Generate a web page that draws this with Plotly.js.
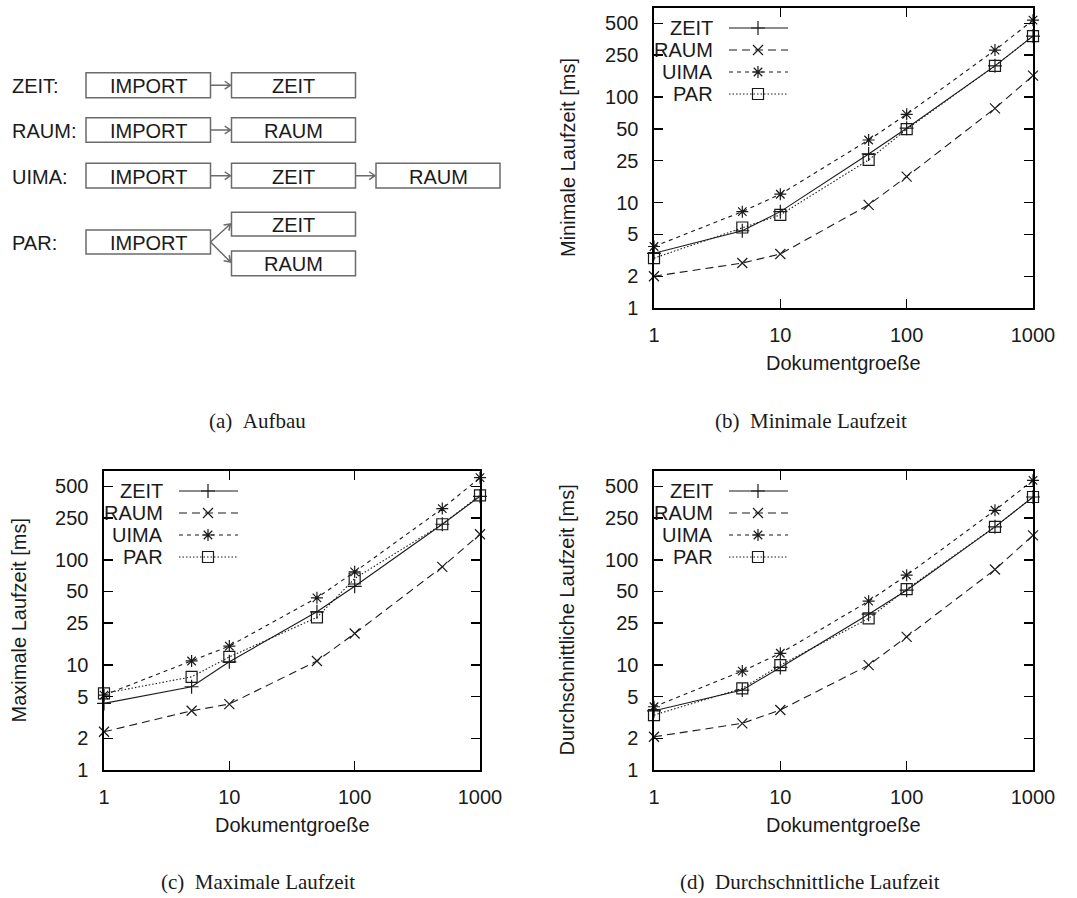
<!DOCTYPE html>
<html>
<head>
<meta charset="utf-8">
<script src="https://cdn.plot.ly/plotly-3.0.1.min.js"></script>
<style>
html,body{margin:0;padding:0;background:#fff;}
#chart{width:1077px;height:898px;}
</style>
</head>
<body>
<div id="chart"></div>
<script>
// ---------------- DATA ----------------
const docSizes = [1, 5, 10, 50, 100, 500, 1000];
const seriesNames = ['ZEIT', 'RAUM', 'UIMA', 'PAR'];

const minZEIT = [3.3, 5.4, 8.2, 28.9, 50.7, 198, 379];
const minRAUM = [2.0, 2.67, 3.25, 9.5, 17.6, 78.3, 160];
const minUIMA = [3.83, 8.2, 12.0, 39.2, 68.7, 279, 537];
const minPAR  = [2.97, 5.8, 7.65, 25.4, 49.6, 198, 379];

const maxZEIT = [4.3, 6.2, 10.7, 32, 56, 218, 402];
const maxRAUM = [2.31, 3.66, 4.24, 10.9, 19.9, 85.7, 175];
const maxUIMA = [5.16, 10.9, 15.1, 43.5, 76.8, 307, 605];
const maxPAR  = [5.35, 7.7, 11.9, 28.3, 66.4, 218, 411];

const avgZEIT = [3.66, 5.76, 9.46, 30.4, 51.4, 206, 396];
const avgRAUM = [2.07, 2.78, 3.72, 9.95, 18.5, 80.8, 171];
const avgUIMA = [4.0, 8.73, 12.9, 40.4, 71.4, 296, 571];
const avgPAR  = [3.33, 5.98, 9.95, 27.7, 52.6, 206, 396];

const yTickVals = [1, 2, 5, 10, 25, 50, 100, 250, 500];
const yTickText = ['1', '2', '5', '10', '25', '50', '100', '250', '500'];
const xTickVals = [1, 10, 100, 1000];
const xTickText = ['1', '10', '100', '1000'];

const xTitle = 'Dokumentgroeße';
const yTitles = ['Minimale Laufzeit [ms]', 'Maximale Laufzeit [ms]', 'Durchschnittliche Laufzeit [ms]'];
const captions = ['(a)\u00a0\u00a0Aufbau', '(b)\u00a0\u00a0Minimale Laufzeit', '(c)\u00a0\u00a0Maximale Laufzeit', '(d)\u00a0\u00a0Durchschnittliche Laufzeit'];

const rowLabels = ['ZEIT:', 'RAUM:', 'UIMA:', 'PAR:'];
const stepImport = 'IMPORT';
const stepZeit = 'ZEIT';
const stepRaum = 'RAUM';

// ---------------- STYLE ----------------
const W = 1077, H = 898;
const SANS = 'Liberation Sans, Arial, Helvetica, sans-serif';
const SERIF = 'Liberation Serif, Times New Roman, serif';
const INK = '#1a1a1a';
const GRAY = '#6b6b6b';
const styles = [
  {symbol: 'cross-thin-open', size: 10, dash: 'solid'},
  {symbol: 'x-thin-open', size: 10, dash: '8px,5px'},
  {symbol: 'asterisk-open', size: 10, dash: '4px,4px'},
  {symbol: 'square-open', size: 11, dash: '1.5px,2px'}
];

const panels = [
  {data: [minZEIT, minRAUM, minUIMA, minPAR], xa: 'x', ya: 'y', f: {l: 654, r: 1033, t: 8, b: 308}, title: yTitles[0], titleX: 568},
  {data: [maxZEIT, maxRAUM, maxUIMA, maxPAR], xa: 'x2', ya: 'y2', f: {l: 104, r: 480, t: 471, b: 770}, title: yTitles[1], titleX: 18},
  {data: [avgZEIT, avgRAUM, avgUIMA, avgPAR], xa: 'x3', ya: 'y3', f: {l: 654, r: 1033, t: 471, b: 770}, title: yTitles[2], titleX: 566}
];

const traces = [];
const layout = {
  width: W, height: H,
  margin: {l: 0, r: 0, t: 0, b: 0, pad: 0},
  paper_bgcolor: '#ffffff',
  plot_bgcolor: 'rgba(0,0,0,0)',
  showlegend: false,
  font: {family: SANS, size: 20, color: INK},
  shapes: [],
  annotations: [],
  xaxis4: {domain: [0, 1], range: [0, W], visible: false, fixedrange: true, anchor: 'y4'},
  yaxis4: {domain: [0, 1], range: [H, 0], visible: false, fixedrange: true, anchor: 'x4'}
};

function axisCommon() {
  return {
    type: 'log', showgrid: false, zeroline: false,
    showline: true, linecolor: '#000', linewidth: 1.6, mirror: 'ticks',
    ticks: 'inside', ticklen: 9, tickwidth: 1.4, tickcolor: '#000',
    tickfont: {family: SANS, size: 20, color: INK},
    fixedrange: true
  };
}

panels.forEach((p, pi) => {
  const n = pi === 0 ? '' : String(pi + 1);
  const xa = Object.assign(axisCommon(), {
    domain: [p.f.l / W, p.f.r / W], range: [0, 3], anchor: p.ya,
    tickvals: xTickVals, ticktext: xTickText, ticklabelstandoff: 8
  });
  const ya = Object.assign(axisCommon(), {
    domain: [1 - p.f.b / H, 1 - p.f.t / H], range: [0, Math.log10(700)], anchor: p.xa,
    tickvals: yTickVals, ticktext: yTickText, ticklabelstandoff: 10
  });
  layout['xaxis' + n] = xa;
  layout['yaxis' + n] = ya;

  p.data.forEach((vals, si) => {
    const st = styles[si];
    traces.push({
      type: 'scatter', mode: 'lines+markers', name: seriesNames[si],
      x: docSizes, y: vals, xaxis: p.xa, yaxis: p.ya, cliponaxis: false,
      line: {color: INK, width: 1.1, dash: st.dash},
      marker: {symbol: st.symbol, size: st.size, color: INK, line: {color: INK, width: 1.2}}
    });
    // legend sample (gnuplot style: text left, sample right)
    const ly = p.f.t + 20 + si * 22;
    layout.annotations.push({
      xref: 'x4', yref: 'y4', x: p.f.l + 61, y: ly, xanchor: 'right', yanchor: 'middle',
      text: seriesNames[si], showarrow: false, font: {family: SANS, size: 20, color: INK}
    });
    traces.push({
      type: 'scatter', mode: 'lines', x: [p.f.l + 75, p.f.l + 134], y: [ly, ly],
      xaxis: 'x4', yaxis: 'y4', hoverinfo: 'skip',
      line: {color: INK, width: 1.1, dash: st.dash}
    });
    traces.push({
      type: 'scatter', mode: 'markers', x: [p.f.l + 104], y: [ly],
      xaxis: 'x4', yaxis: 'y4', hoverinfo: 'skip',
      marker: {symbol: st.symbol, size: st.size, color: INK, line: {color: INK, width: 1.2}}
    });
  });

  // axis titles
  layout.annotations.push({
    xref: 'x4', yref: 'y4', x: p.titleX, y: (p.f.t + p.f.b) / 2, textangle: -90,
    xanchor: 'center', yanchor: 'middle', showarrow: false, text: p.title,
    font: {family: SANS, size: 20, color: INK}
  });
  layout.annotations.push({
    xref: 'x4', yref: 'y4', x: (p.f.l + p.f.r) / 2, y: p.f.b + 55,
    xanchor: 'center', yanchor: 'middle', showarrow: false, text: xTitle,
    font: {family: SANS, size: 20, color: INK}
  });
});

// captions
const capPos = [[257, 421], [811, 421], [258, 882], [810, 882]];
captions.forEach((c, i) => {
  layout.annotations.push({
    xref: 'x4', yref: 'y4', x: capPos[i][0], y: capPos[i][1], xanchor: 'center', yanchor: 'middle',
    showarrow: false, text: c, font: {family: SERIF, size: 21, color: INK}
  });
});

// ---------------- DIAGRAM (a) ----------------
function box(x0, x1, y0, y1, label) {
  layout.shapes.push({type: 'rect', xref: 'x4', yref: 'y4', x0: x0, x1: x1, y0: y0, y1: y1,
    line: {color: GRAY, width: 1.5}, fillcolor: 'rgba(0,0,0,0)'});
  layout.annotations.push({xref: 'x4', yref: 'y4', x: (x0 + x1) / 2, y: (y0 + y1) / 2 + 1,
    xanchor: 'center', yanchor: 'middle', showarrow: false, text: label,
    font: {family: SANS, size: 20, color: INK}});
}
function arrow(x0, y0, x1, y1) {
  const dx = x1 - x0, dy = y1 - y0, L = Math.hypot(dx, dy);
  const ux = dx / L, uy = dy / L, hl = 7, th = 0.6;
  const c = Math.cos(th), s = Math.sin(th);
  const ax1 = x1 - hl * (ux * c - uy * s), ay1 = y1 - hl * (uy * c + ux * s);
  const ax2 = x1 - hl * (ux * c + uy * s), ay2 = y1 - hl * (uy * c - ux * s);
  layout.shapes.push({type: 'path', xref: 'x4', yref: 'y4',
    path: `M${x0},${y0} L${x1},${y1} M${ax1},${ay1} L${x1},${y1} L${ax2},${ay2}`,
    line: {color: GRAY, width: 1.5}});
}
const c1 = [86, 210.5], c2 = [231.5, 355.5], c3 = [376, 500];
const rowsY = [[72.7, 97.7], [117.7, 142.3], [163.3, 188], [230, 254]];
rowLabels.forEach((lab, i) => {
  layout.annotations.push({xref: 'x4', yref: 'y4', x: 10, y: (rowsY[i][0] + rowsY[i][1]) / 2 + 1,
    xanchor: 'left', yanchor: 'middle', showarrow: false, text: lab,
    font: {family: SANS, size: 20, color: INK}});
  box(c1[0], c1[1], rowsY[i][0], rowsY[i][1], stepImport);
});
// row 1
box(c2[0], c2[1], rowsY[0][0], rowsY[0][1], stepZeit);
arrow(c1[1], 85.2, c2[0] - 1, 85.2);
// row 2
box(c2[0], c2[1], rowsY[1][0], rowsY[1][1], stepRaum);
arrow(c1[1], 130, c2[0] - 1, 130);
// row 3
box(c2[0], c2[1], rowsY[2][0], rowsY[2][1], stepZeit);
box(c3[0], c3[1], rowsY[2][0], rowsY[2][1], stepRaum);
arrow(c1[1], 175.7, c2[0] - 1, 175.7);
arrow(c2[1], 175.7, c3[0] - 1, 175.7);
// row 4 (parallel)
box(c2[0], c2[1], 212.3, 236, stepZeit);
box(c2[0], c2[1], 251, 275.7, stepRaum);
arrow(c1[1], 242, c2[0] - 1, 224);
arrow(c1[1], 242, c2[0] - 1, 262);

Plotly.newPlot('chart', traces, layout, {staticPlot: true, displayModeBar: false});
</script>
</body>
</html>
